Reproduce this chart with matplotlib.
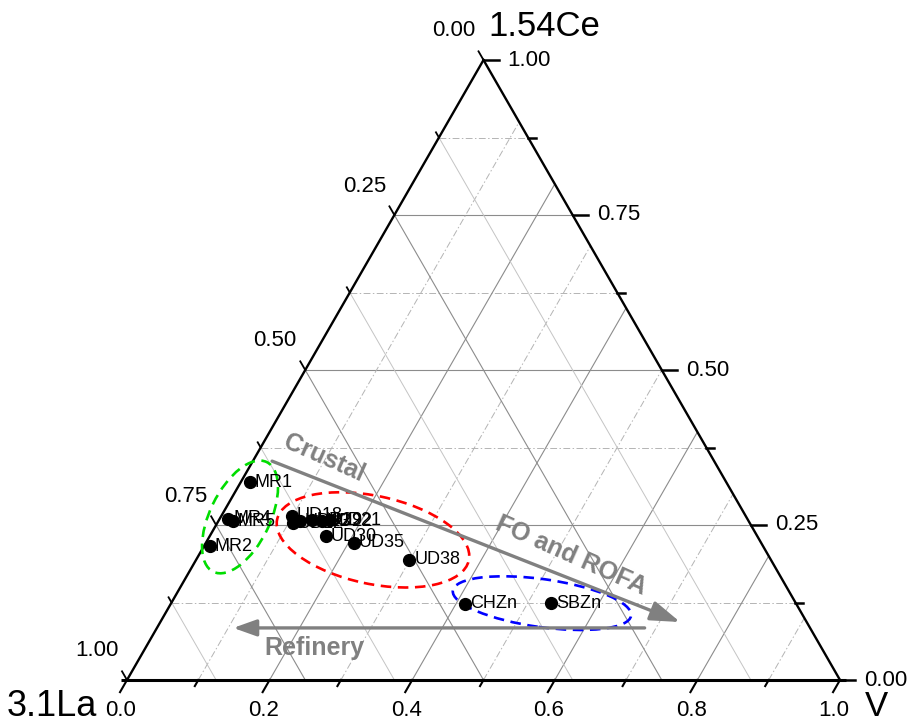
from __future__ import annotations

import matplotlib
import numpy as np
from matplotlib import pyplot as plt
from matplotlib.patches import Ellipse

matplotlib.use("Agg")

plt.rcParams["font.family"] = ["Liberation Sans", "DejaVu Sans"]

# sample compositions: fraction of V and of 1.54Ce (3.1La is the rest)
sample_names = ["MR1", "MR4", "MR5", "MR2",
                "UD18", "UD12", "UD13", "UD29", "UD22", "UD21",
                "UD30", "UD35", "UD38", "CHZn", "SBZn"]
sample_v = [0.013, 0.012, 0.020, 0.008,
            0.099, 0.106, 0.114, 0.130, 0.145, 0.156,
            0.163, 0.208, 0.299, 0.413, 0.533]
sample_ce = [0.319, 0.260, 0.256, 0.216,
             0.265, 0.253, 0.256, 0.258, 0.256, 0.258,
             0.232, 0.221, 0.194, 0.123, 0.124]

# source groups (dashed ellipses), centre composition
group_colors = ["#00dd00", "#ff0000", "#0000ff"]
group_center_v = [0.027, 0.232, 0.520]
group_center_ce = [0.263, 0.226, 0.124]

# trend arrows: start/end compositions (V, Ce)
trend_labels = ["FO and ROFA", "Refinery"]
trend_start = [(0.027, 0.353), (0.684, 0.084)]
trend_end = [(0.729, 0.0935), (0.107, 0.084)]

v_ticks = [0.0, 0.2, 0.4, 0.6, 0.8, 1.0]
ce_ticks = [0.0, 0.25, 0.5, 0.75, 1.0]
la_ticks = [0.0, 0.25, 0.5, 0.75, 1.0]

# triangle geometry in pixels (y up)
X0, Y0 = 127.0, 44.0
SIDE = 713.0
HEIGHT = 620.0


def to_xy(v, ce):
    v = np.asarray(v, dtype=float)
    ce = np.asarray(ce, dtype=float)
    return X0 + SIDE * (v + 0.5 * ce), Y0 + HEIGHT * ce


def seg(ax, p, q, **kw):
    ax.plot([p[0], q[0]], [p[1], q[1]], **kw)


fig = plt.figure(figsize=(9.11, 7.24), dpi=100)
ax = fig.add_axes([0, 0, 1, 1])
ax.set_xlim(0, 911)
ax.set_ylim(0, 724)
ax.axis("off")

major_grid = dict(color="#8c8c8c", lw=0.8, zorder=1)
minor_dash = dict(color="#b4b4b4", lw=0.7, ls=(0, (7, 2.5, 1.5, 2.5)), zorder=1)
minor_solid = dict(color="#c4c4c4", lw=0.7, zorder=1)

# constant Ce (horizontal)
for i in range(1, 8):
    c = i * 0.125
    seg(ax, to_xy(0, c), to_xy(1 - c, c), **(major_grid if i % 2 == 0 else minor_dash))
# constant V
for i in range(1, 10):
    v = i * 0.1
    seg(ax, to_xy(v, 0), to_xy(v, 1 - v), **(major_grid if i % 2 == 0 else minor_dash))
# constant La
for i in range(1, 8):
    la = i * 0.125
    seg(ax, to_xy(0, 1 - la), to_xy(1 - la, 0), **(major_grid if i % 2 == 0 else minor_solid))

# frame
seg(ax, to_xy(0, 0), to_xy(0, 1), color="black", lw=1.7, zorder=3)
seg(ax, to_xy(1, 0), to_xy(0, 1), color="black", lw=1.7, zorder=3)
ax.plot([X0 - 6, X0 + SIDE + 6], [Y0, Y0], color="black", lw=2.2, zorder=3,
        solid_capstyle="butt")

# ticks
d_bottom = np.array([-0.5 * SIDE, -HEIGHT]) / np.hypot(0.5 * SIDE, HEIGHT)
d_left = np.array([-0.5 * SIDE, HEIGHT]) / np.hypot(0.5 * SIDE, HEIGHT)
for i in range(11):
    p = np.array(to_xy(i * 0.1, 0))
    q = p + d_bottom * (14 if i % 2 == 0 else 7)
    seg(ax, p, q, color="black", lw=1.5, zorder=3)
for i in range(9):
    la = i * 0.125
    p = np.array(to_xy(0, 1 - la))
    q = p + d_left * (10 if i % 2 == 0 else 6)
    seg(ax, p, q, color="black", lw=1.3, zorder=3)
    c = i * 0.125
    p = np.array(to_xy(1 - c, c))
    q = p + np.array([15 if i % 2 == 0 else 8, 0])
    seg(ax, p, q, color="black", lw=1.8, zorder=3)

tick_fs = 16
for v in v_ticks:
    x, y = to_xy(v, 0)
    ax.text(x - 6, y - 30, f"{v:.1f}", fontsize=tick_fs, ha="center", va="center")
for c in ce_ticks:
    x, y = to_xy(1 - c, c)
    ax.text(x + 24, y, f"{c:.2f}", fontsize=tick_fs, ha="left", va="center")
for la in la_ticks:
    x, y = to_xy(0, 1 - la)
    ax.text(x - 30, y + 29, f"{la:.2f}", fontsize=tick_fs, ha="center", va="center")

title_fs = 25
x, y = to_xy(0, 1)
ax.text(x + 5, y + 33, "1.54Ce", fontsize=title_fs, ha="left", va="center")
x, y = to_xy(0, 0)
ax.text(x - 30, y - 26, "3.1La", fontsize=title_fs + 1, ha="right", va="center")
x, y = to_xy(1, 0)
ax.text(x + 25, y - 26, "V", fontsize=title_fs, ha="left", va="center")

# source ellipses (width, height in px, angle in degrees)
ellipse_shapes = [(122, 60, 64), (196, 88, -12), (180, 48, -8)]
for color, cv, cc, (w, h, ang) in zip(group_colors, group_center_v, group_center_ce, ellipse_shapes):
    cx, cy = to_xy(cv, cc)
    ax.add_patch(Ellipse((float(cx), float(cy)), w, h, angle=ang, fill=False,
                         edgecolor=color, lw=1.9, ls=(0, (4, 2.5)), zorder=4))

# trend arrows
arrow_gray = "#808080"
for start, end, head in zip(trend_start, trend_end, [(0.9, 0.3), (0.7, 0.25)]):
    ax.annotate("", xy=tuple(map(float, to_xy(*end))), xytext=tuple(map(float, to_xy(*start))),
                arrowprops=dict(arrowstyle=f"-|>,head_length={head[0]},head_width={head[1]}",
                                color=arrow_gray, lw=2.4, shrinkA=0, shrinkB=0,
                                mutation_scale=20), zorder=5)

label_kw = dict(fontsize=18, fontweight="bold", color=arrow_gray, ha="center", va="center",
                rotation_mode="anchor", zorder=5)
ax.text(324, 724 - 458, "Crustal", rotation=-24, **label_kw)
ax.text(571, 724 - 556, trend_labels[0], rotation=-24, **label_kw)
ax.text(314, 724 - 648, trend_labels[1], **label_kw)

# samples
sx, sy = to_xy(sample_v, sample_ce)
ax.plot(sx, sy, "o", color="black", ms=8.5, zorder=6)
for name, x, y in zip(sample_names, sx, sy):
    ax.text(x + 5, y, name, fontsize=13, ha="left", va="center", zorder=6)

fig.savefig("out.png", dpi=100)
plt.close(fig)
